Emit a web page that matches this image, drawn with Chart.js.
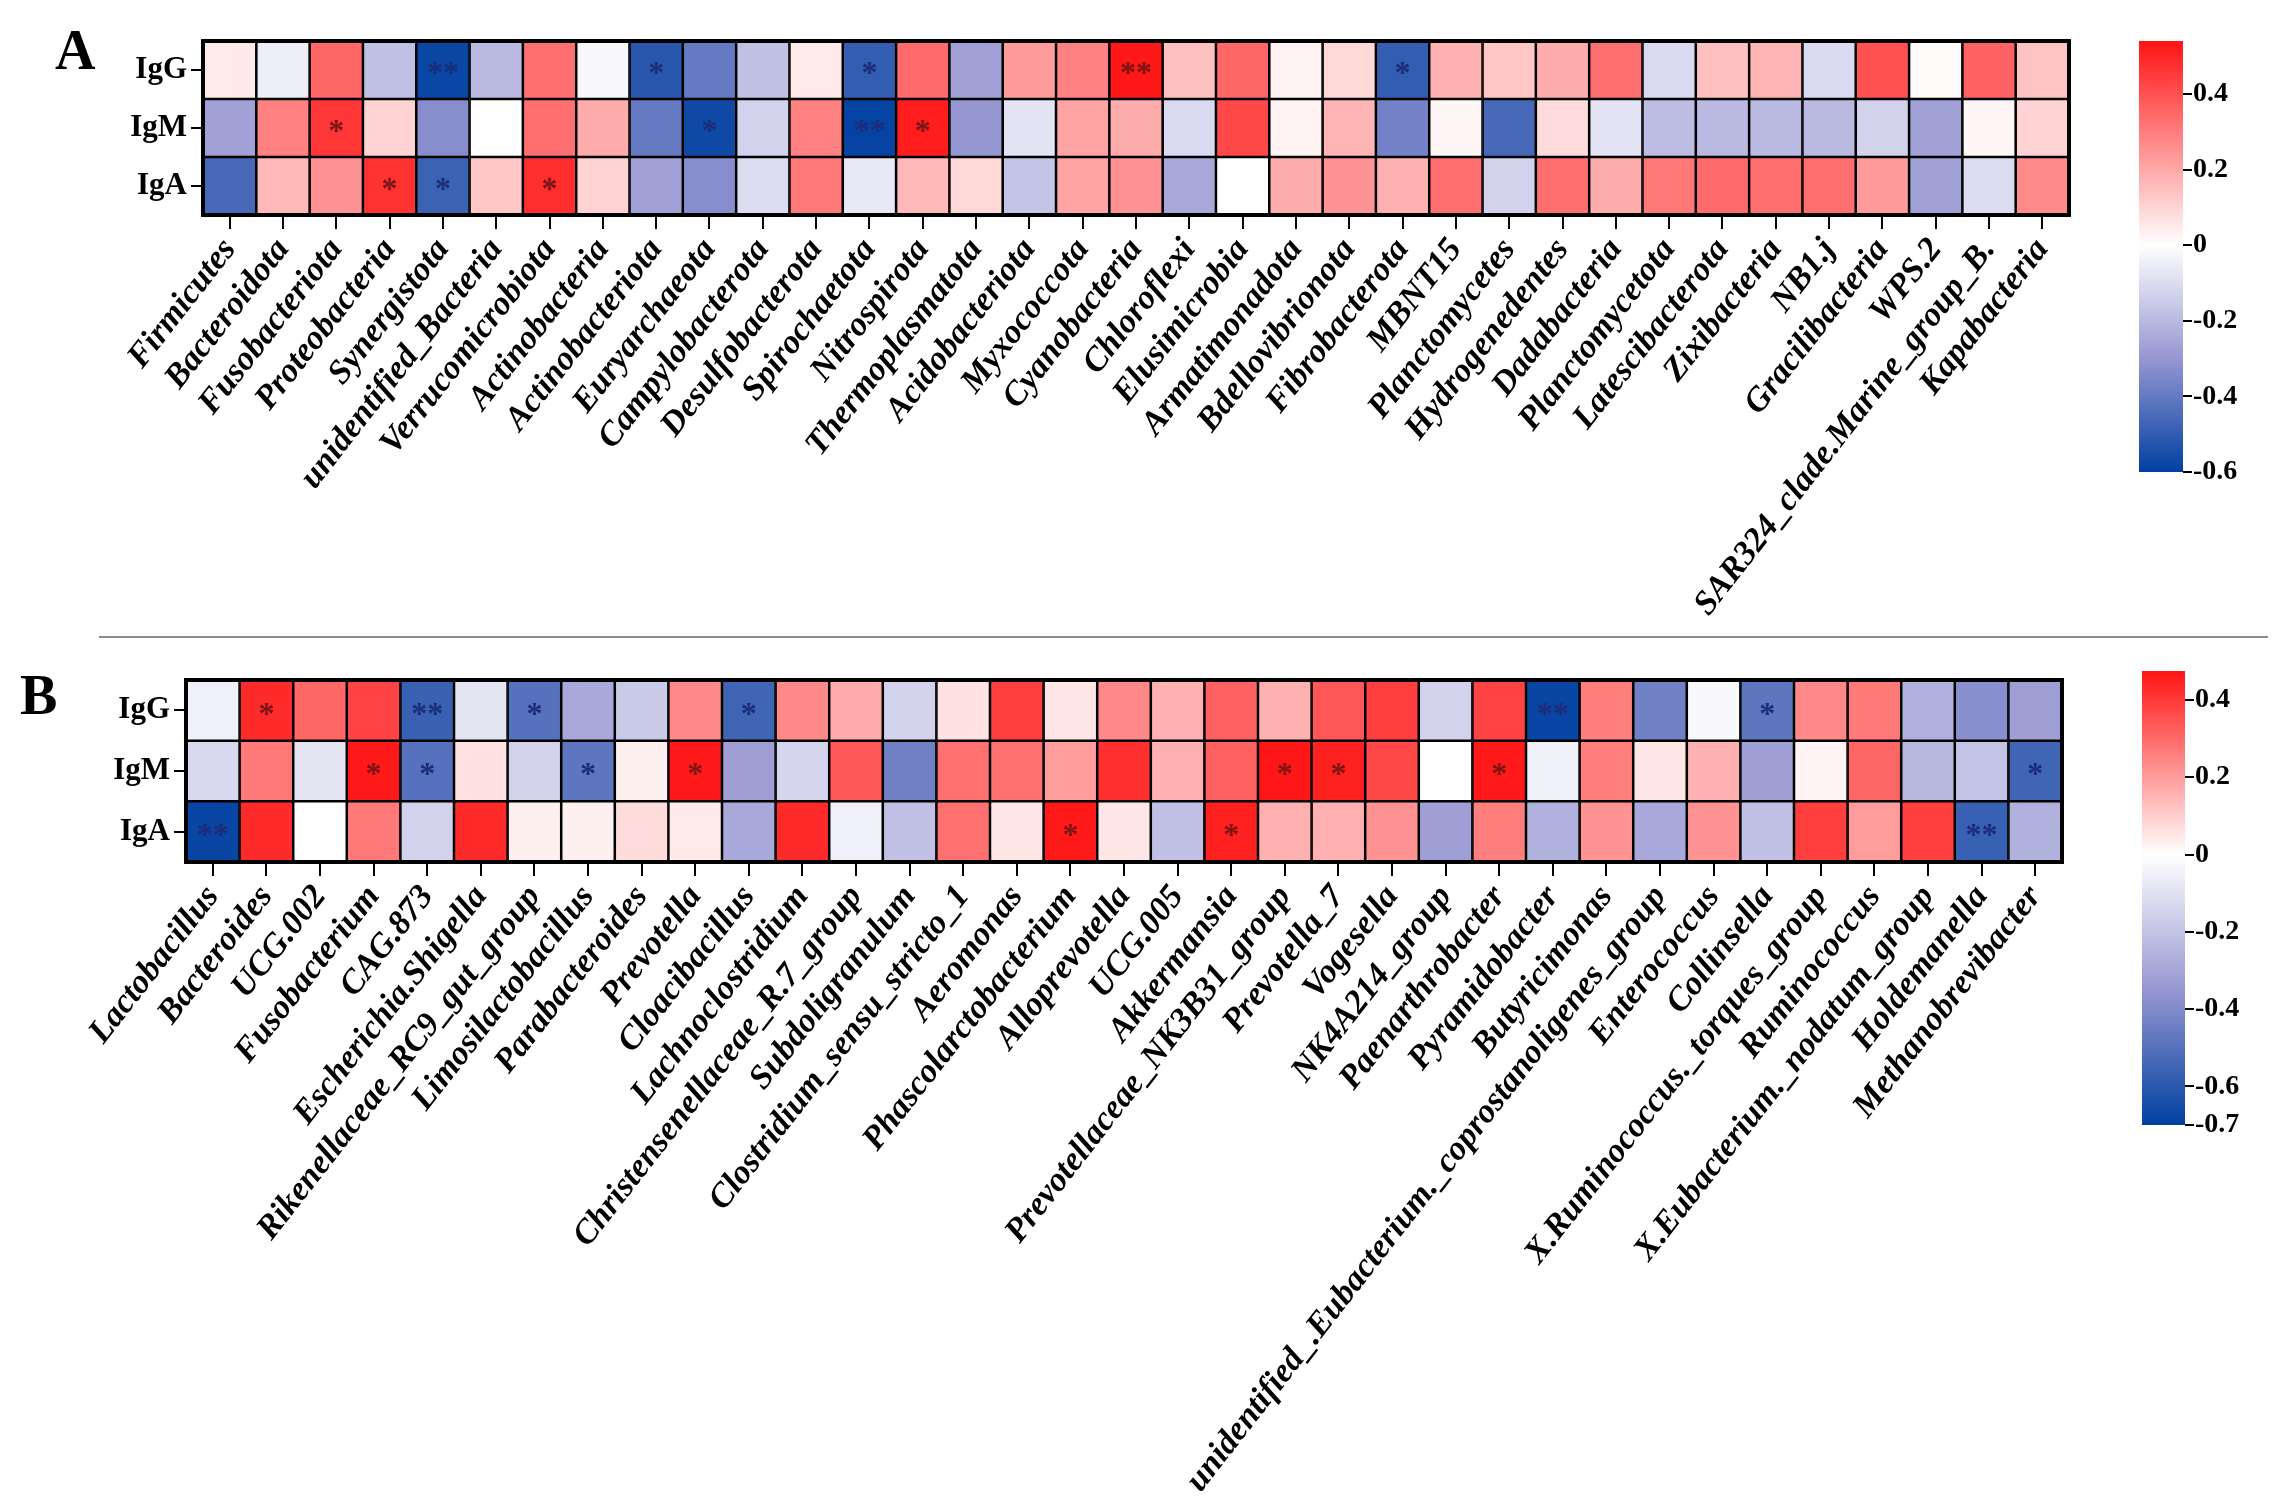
<!DOCTYPE html>
<html>
<head>
<meta charset="utf-8">
<script src="https://cdn.jsdelivr.net/npm/chart.js@4.4.1/dist/chart.umd.min.js"></script>
<style>
  html, body { margin: 0; padding: 0; background: #ffffff; }
  body { width: 2277px; height: 1502px; position: relative; overflow: hidden; }
  canvas { position: absolute; }
  .panel { position: absolute; font-family: 'Liberation Serif', 'Times New Roman', serif; font-weight: bold; font-size: 56px; color: #000; line-height: 1; }
  #divider { position: absolute; left: 99px; top: 636px; width: 2169px; height: 0; border-top: 2px solid #8c8c8c; }
</style>
</head>
<body>
<div class="panel" style="left:55px; top:22px;">A</div>
<div class="panel" style="left:20px; top:667px;">B</div>
<div id="divider"></div>
<canvas id="heatA" width="2100" height="630" style="left:0; top:0;"></canvas>
<canvas id="barA" width="177" height="630" style="left:2100px; top:0;"></canvas>
<canvas id="heatB" width="2100" height="866" style="left:0; top:636px;"></canvas>
<canvas id="barB" width="177" height="866" style="left:2100px; top:636px;"></canvas>
<script>
// ---------------- DATA ----------------
const rowLabels = ['IgG', 'IgM', 'IgA'];

const phylaA = ['Firmicutes','Bacteroidota','Fusobacteriota','Proteobacteria','Synergistota','unidentified_Bacteria','Verrucomicrobiota','Actinobacteria','Actinobacteriota','Euryarchaeota','Campylobacterota','Desulfobacterota','Spirochaetota','Nitrospirota','Thermoplasmatota','Acidobacteriota','Myxococcota','Cyanobacteria','Chloroflexi','Elusimicrobia','Armatimonadota','Bdellovibrionota','Fibrobacterota','MBNT15','Planctomycetes','Hydrogenedentes','Dadabacteria','Planctomycetota','Latescibacterota','Zixibacteria','NB1.j','Gracilibacteria','WPS.2','SAR324_clade.Marine_group_B.','Kapabacteria'];
const igG_A = [0.05,-0.05,0.35,-0.18,-0.58,-0.2,0.33,-0.02,-0.52,-0.4,-0.18,0.05,-0.5,0.34,-0.27,0.23,0.29,0.53,0.145,0.35,0.03,0.09,-0.5,0.18,0.13,0.19,0.33,-0.11,0.145,0.17,-0.11,0.4,0.01,0.36,0.14];
const igM_A = [-0.27,0.29,0.46,0.1,-0.33,0,0.33,0.19,-0.4,-0.57,-0.13,0.29,-0.59,0.52,-0.3,-0.08,0.21,0.19,-0.11,0.42,0.03,0.17,-0.37,0.02,-0.46,0.08,-0.08,-0.19,-0.2,-0.2,-0.2,-0.13,-0.27,0.02,0.1];
const igA_A = [-0.46,0.16,0.25,0.47,-0.48,0.13,0.48,0.1,-0.27,-0.33,-0.1,0.31,-0.07,0.16,0.09,-0.17,0.21,0.25,-0.25,0,0.19,0.25,0.18,0.33,-0.13,0.33,0.19,0.31,0.34,0.33,0.33,0.23,-0.27,-0.1,0.27];
const sigG_A = [['Synergistota','**'],['Actinobacteriota','*'],['Spirochaetota','*'],['Cyanobacteria','**'],['Fibrobacterota','*']];
const sigM_A = [['Fusobacteriota','*'],['Euryarchaeota','*'],['Spirochaetota','**'],['Nitrospirota','*']];
const sigAA_A = [['Proteobacteria','*'],['Synergistota','*'],['Verrucomicrobiota','*']];
const rangeA = [-0.6, 0.54];
const ticksA = [0.4, 0.2, 0, -0.2, -0.4, -0.6];

const generaB = ['Lactobacillus','Bacteroides','UCG.002','Fusobacterium','CAG.873','Escherichia.Shigella','Rikenellaceae_RC9_gut_group','Limosilactobacillus','Parabacteroides','Prevotella','Cloacibacillus','Lachnoclostridium','Christensenellaceae_R.7_group','Subdoligranulum','Clostridium_sensu_stricto_1','Aeromonas','Phascolarctobacterium','Alloprevotella','UCG.005','Akkermansia','Prevotellaceae_NK3B31_group','Prevotella_7','Vogesella','NK4A214_group','Paenarthrobacter','Pyramidobacter','Butyricimonas','unidentified_.Eubacterium._coprostanoligenes_group','Enterococcus','Collinsella','X.Ruminococcus._torques_group','Ruminococcus','X.Eubacterium._nodatum_group','Holdemanella','Methanobrevibacter'];
const igG_B = [-0.05,0.43,0.31,0.38,-0.57,-0.09,-0.5,-0.29,-0.18,0.24,-0.55,0.24,0.17,-0.15,0.06,0.39,0.05,0.24,0.16,0.32,0.16,0.34,0.39,-0.15,0.38,-0.68,0.26,-0.44,-0.02,-0.48,0.24,0.27,-0.26,-0.38,-0.32];
const igM_B = [-0.13,0.27,-0.09,0.465,-0.5,0.06,-0.15,-0.48,0.03,0.465,-0.32,-0.14,0.34,-0.44,0.29,0.29,0.2,0.42,0.16,0.32,0.47,0.45,0.37,0,0.465,-0.05,0.26,0.05,0.16,-0.32,0.025,0.31,-0.24,-0.2,-0.55];
const igA_B = [-0.68,0.43,0,0.27,-0.15,0.43,0.03,0.03,0.07,0.045,-0.29,0.43,-0.05,-0.21,0.29,0.05,0.465,0.05,-0.21,0.45,0.16,0.16,0.22,-0.32,0.26,-0.26,0.22,-0.29,0.22,-0.21,0.39,0.2,0.39,-0.57,-0.26];
const sigG_B = [['Bacteroides','*'],['CAG.873','**'],['Rikenellaceae_RC9_gut_group','*'],['Cloacibacillus','*'],['Pyramidobacter','**'],['Collinsella','*']];
const sigM_B = [['Fusobacterium','*'],['CAG.873','*'],['Limosilactobacillus','*'],['Prevotella','*'],['Prevotellaceae_NK3B31_group','*'],['Prevotella_7','*'],['Paenarthrobacter','*'],['Methanobrevibacter','*']];
const sigAA_B = [['Lactobacillus','**'],['Phascolarctobacterium','*'],['Akkermansia','*'],['Holdemanella','**']];
const rangeB = [-0.7, 0.475];
const ticksB = [0.4, 0.2, 0, -0.2, -0.4, -0.6, -0.7];

// ---------------- COLOUR MAP ----------------
const C_RED = [255, 20, 20], C_WHITE = [255, 255, 255], C_LAV = [150, 150, 210], C_BLUE = [0, 64, 160];
function lerp(a, b, t) { return [0,1,2].map(i => Math.round(a[i] + (b[i] - a[i]) * t)); }
function rgb(c) { return 'rgb(' + c.join(',') + ')'; }
function colorFor(v, min, max) {
  if (v >= 0) return rgb(lerp(C_WHITE, C_RED, Math.min(v / max, 1)));
  const t = Math.min(v / min, 1);
  return t < 0.5 ? rgb(lerp(C_WHITE, C_LAV, t / 0.5)) : rgb(lerp(C_LAV, C_BLUE, (t - 0.5) / 0.5));
}

const SERIF = "'Liberation Serif', 'Times New Roman', serif";

function makeHeatmap(id, labels, rows, sigs, range, geo) {
  // rows[0] = IgG (top band [2,3]), rows[1] = IgM ([1,2]), rows[2] = IgA ([0,1])
  const datasets = rows.map((vals, r) => {
    const base = 2 - r;
    return {
      label: rowLabels[r],
      data: vals.map(() => [base, base + 1]),
      backgroundColor: vals.map(v => colorFor(v, range[0], range[1])),
      borderColor: '#000',
      borderWidth: 1.6,
      borderSkipped: false,
      barPercentage: 1,
      categoryPercentage: 1
    };
  });
  const starPlugin = {
    id: 'stars',
    afterDatasetsDraw(chart) {
      const { ctx, scales: { x, y }, chartArea } = chart;
      ctx.save();
      ctx.textAlign = 'center';
      ctx.textBaseline = 'middle';
      ctx.font = 'bold 32px ' + SERIF;
      sigs.forEach((list, r) => {
        const base = 2 - r;
        list.forEach(([name, s]) => {
          const i = labels.indexOf(name);
          const v = rows[r][i];
          ctx.fillStyle = v < 0 ? '#1d2c78' : '#7a1414';
          ctx.fillText(s, x.getPixelForValue(i), y.getPixelForValue(base + 0.5) + 5);
        });
      });
      ctx.lineWidth = 4;
      ctx.strokeStyle = '#000';
      ctx.strokeRect(chartArea.left, chartArea.top, chartArea.right - chartArea.left, chartArea.bottom - chartArea.top);
      ctx.restore();
    }
  };
  return new Chart(document.getElementById(id), {
    type: 'bar',
    data: { labels: labels, datasets: datasets },
    options: {
      responsive: false,
      animation: false,
      devicePixelRatio: 1,
      layout: { padding: geo.padding },
      plugins: { legend: { display: false }, tooltip: { enabled: false } },
      scales: {
        x: {
          stacked: true,
          afterFit(s) { s.height = geo.xHeight; },
          border: { display: false },
          grid: { display: true, drawOnChartArea: false, drawTicks: true, tickLength: 14, color: '#000', lineWidth: 2, offset: false },
          ticks: {
            autoSkip: false, maxRotation: 52, minRotation: 52, padding: 2,
            color: '#000',
            font: { family: SERIF, size: 34, weight: 'bold', style: 'italic' }
          }
        },
        y: {
          min: 0, max: 3,
          afterFit(s) { s.width = geo.yWidth; },
          afterBuildTicks(s) { s.ticks = [{ value: 0.5 }, { value: 1.5 }, { value: 2.5 }]; },
          border: { display: false },
          grid: { display: true, drawOnChartArea: false, drawTicks: true, tickLength: 12, color: '#000', lineWidth: 2 },
          ticks: {
            color: '#000', padding: 4,
            font: { family: SERIF, size: 31, weight: 'bold' },
            callback(v) { return rowLabels[2 - Math.floor(v)]; }
          }
        }
      }
    },
    plugins: [starPlugin]
  });
}

function makeColorbar(id, range, tickVals, geo) {
  const [min, max] = range;
  return new Chart(document.getElementById(id), {
    type: 'bar',
    data: {
      labels: ['scale'],
      datasets: [{
        data: [[min, max]],
        backgroundColor(c) {
          const ch = c.chart, area = ch.chartArea;
          if (!area) return '#fff';
          const y = ch.scales.y;
          const top = y.getPixelForValue(max), bot = y.getPixelForValue(min);
          const g = ch.ctx.createLinearGradient(0, top, 0, bot);
          const pos = v => (max - v) / (max - min);
          g.addColorStop(0, rgb(C_RED));
          g.addColorStop(pos(0), rgb(C_WHITE));
          g.addColorStop(pos(min / 2), rgb(C_LAV));
          g.addColorStop(1, rgb(C_BLUE));
          return g;
        },
        borderWidth: 0,
        barPercentage: 1,
        categoryPercentage: 1
      }]
    },
    options: {
      responsive: false,
      animation: false,
      devicePixelRatio: 1,
      layout: { padding: geo.padding },
      plugins: { legend: { display: false }, tooltip: { enabled: false } },
      scales: {
        x: { display: false },
        y: {
          position: 'right', min: min, max: max,
          afterFit(s) { s.width = geo.yWidth; },
          afterBuildTicks(s) { s.ticks = tickVals.map(v => ({ value: v })); },
          border: { display: false },
          grid: { display: true, drawOnChartArea: false, drawTicks: true, tickLength: 9, color: '#000', lineWidth: 2 },
          ticks: {
            color: '#000', padding: 1,
            font: { family: SERIF, size: 28, weight: 'bold' },
            callback(v) { return Math.abs(v) < 1e-9 ? '0' : String(Math.round(v * 10) / 10); }
          }
        }
      }
    }
  });
}

makeHeatmap('heatA', phylaA, [igG_A, igM_A, igA_A], [sigG_A, sigM_A, sigAA_A], rangeA,
  { padding: { top: 41, right: 31, left: 0, bottom: 0 }, yWidth: 203, xHeight: 415 });
makeColorbar('barA', rangeA, ticksA,
  { padding: { top: 41, right: 0, left: 39, bottom: 158 }, yWidth: 94 });
makeHeatmap('heatB', generaB, [igG_B, igM_B, igA_B], [sigG_B, sigM_B, sigAA_B], rangeB,
  { padding: { top: 44, right: 38, left: 0, bottom: 0 }, yWidth: 186, xHeight: 640 });
makeColorbar('barB', rangeB, ticksB,
  { padding: { top: 35, right: 0, left: 42, bottom: 377 }, yWidth: 92 });
</script>
</body>
</html>
